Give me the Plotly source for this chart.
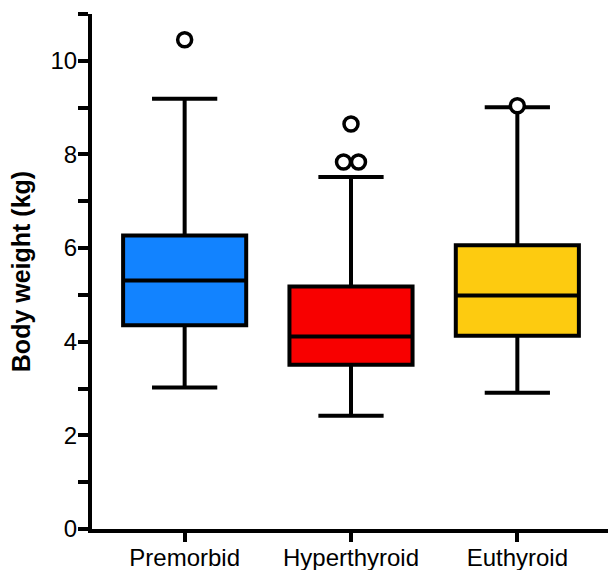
import plotly.graph_objects as go

categories = ["Premorbid", "Hyperthyroid", "Euthyroid"]
lower_whisker = [3.02, 2.42, 2.91]
q1_vals = [4.35, 3.51, 4.13]
median_vals = [5.31, 4.11, 4.99]
q3_vals = [6.27, 5.18, 6.06]
upper_whisker = [9.19, 7.52, 9.01]
colors = ["#1283FF", "#F80000", "#FDCB10"]

# outliers: (category index, value, horizontal jitter)
outlier_cat = [0, 1, 1, 1, 2]
outlier_val = [10.45, 8.65, 7.84, 7.84, 9.04]
outlier_jit = [0.0, 0.0, -0.045, 0.045, 0.0]

fig = go.Figure()
for i, cat in enumerate(categories):
    fig.add_trace(go.Box(
        x=[i], q1=[q1_vals[i]], median=[median_vals[i]], q3=[q3_vals[i]],
        lowerfence=[lower_whisker[i]], upperfence=[upper_whisker[i]],
        fillcolor=colors[i], line=dict(color="black", width=4),
        width=0.74, whiskerwidth=0.53, boxpoints=False, name=cat,
        hoverinfo="skip",
    ))

fig.add_trace(go.Scatter(
    x=[c + j for c, j in zip(outlier_cat, outlier_jit)], y=outlier_val,
    mode="markers",
    marker=dict(symbol="circle", size=14, color="white",
                line=dict(color="black", width=3.5)),
    hoverinfo="skip", cliponaxis=False,
))

fig.update_layout(
    width=608, height=570,
    margin=dict(l=92, r=0, t=14, b=41),
    plot_bgcolor="white", paper_bgcolor="white",
    showlegend=False,
    font=dict(family="Liberation Sans, Arial, sans-serif", size=24, color="black"),
)
fig.update_xaxes(
    range=[-0.557, 2.545], tickmode="array", tickvals=[0, 1, 2], ticktext=categories,
    showline=True, linecolor="black", linewidth=4, ticks="outside", ticklen=9,
    tickwidth=4, tickcolor="black", showgrid=False, zeroline=False,
    tickfont=dict(size=24), automargin=False, ticklabelstandoff=-5,
)
fig.update_yaxes(
    range=[0, 11], tickvals=[0, 2, 4, 6, 8, 10],
    showline=True, linecolor="black", linewidth=4, ticks="outside", ticklen=10,
    tickwidth=4, tickcolor="black", showgrid=False, zeroline=False,
    minor=dict(dtick=1, ticks="outside", ticklen=10, tickwidth=4, tickcolor="black", showgrid=False),
    tickfont=dict(size=24), automargin=False, ticklabelstandoff=-4,
    title=dict(text="<b>Body weight (kg)</b>", font=dict(size=25), standoff=14),
)

fig.write_html("out.html", post_script="document.body.style.margin='0';",
               config={"displayModeBar": False})
